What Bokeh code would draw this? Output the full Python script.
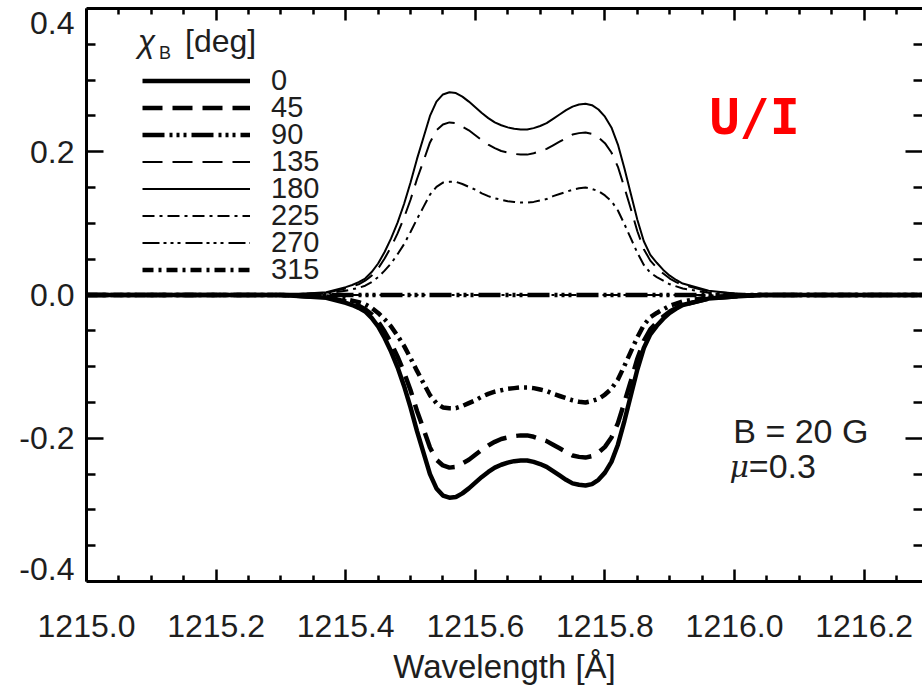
from bokeh.plotting import figure
from bokeh.models import (Range1d, LinearAxis, FixedTicker, PrintfTickFormatter,
                          Legend, LegendItem, Label, CustomLabelingPolicy)
from bokeh.embed import file_html
from bokeh.resources import INLINE

# ---------------- data ----------------
wavelength = [1215.00, 1215.30, 1215.34, 1215.37,
              1215.40, 1215.41, 1215.42, 1215.43, 1215.44, 1215.45, 1215.46, 1215.47,
              1215.48, 1215.49, 1215.50, 1215.51, 1215.52, 1215.53, 1215.54, 1215.55,
              1215.56, 1215.57, 1215.58, 1215.59, 1215.60, 1215.61, 1215.62, 1215.63,
              1215.64, 1215.65, 1215.66, 1215.67, 1215.68, 1215.69, 1215.70, 1215.71,
              1215.72, 1215.73, 1215.74, 1215.75, 1215.76, 1215.77, 1215.78, 1215.79,
              1215.80, 1215.81, 1215.82, 1215.83, 1215.84, 1215.85, 1215.86, 1215.87,
              1215.88, 1215.89, 1215.90, 1215.91, 1215.92,
              1215.96, 1216.00, 1216.04, 1216.30]

ui_180 = [0.0, 0.0, 0.002, 0.004,
          0.011, 0.014, 0.018, 0.023, 0.032, 0.044, 0.060, 0.079,
          0.101, 0.127, 0.157, 0.190, 0.220, 0.250, 0.270, 0.280,
          0.283, 0.282, 0.277, 0.270, 0.262, 0.254, 0.247, 0.241,
          0.237, 0.234, 0.232, 0.231, 0.231, 0.233, 0.236, 0.240,
          0.246, 0.252, 0.258, 0.263, 0.266, 0.267, 0.265, 0.259,
          0.249, 0.234, 0.210, 0.177, 0.141, 0.105, 0.075, 0.056,
          0.045, 0.035, 0.027, 0.021, 0.016,
          0.006, 0.002, 0.0, 0.0]
ui_135 = [0.0, 0.0, 0.002, 0.003,
          0.009, 0.012, 0.015, 0.020, 0.027, 0.037, 0.051, 0.067,
          0.086, 0.108, 0.133, 0.162, 0.187, 0.213, 0.230, 0.238,
          0.241, 0.240, 0.235, 0.230, 0.223, 0.216, 0.210, 0.205,
          0.201, 0.199, 0.197, 0.196, 0.196, 0.198, 0.201, 0.204,
          0.209, 0.214, 0.219, 0.224, 0.226, 0.227, 0.225, 0.220,
          0.212, 0.199, 0.179, 0.150, 0.120, 0.089, 0.064, 0.048,
          0.038, 0.030, 0.023, 0.018, 0.014,
          0.005, 0.002, 0.0, 0.0]
ui_225 = [0.0, 0.0, 0.001, 0.002,
          0.006, 0.008, 0.010, 0.013, 0.018, 0.025, 0.034, 0.044,
          0.057, 0.071, 0.088, 0.106, 0.123, 0.140, 0.151, 0.157,
          0.158, 0.158, 0.155, 0.151, 0.147, 0.142, 0.138, 0.135,
          0.133, 0.131, 0.130, 0.129, 0.129, 0.130, 0.132, 0.134,
          0.138, 0.141, 0.144, 0.147, 0.149, 0.150, 0.148, 0.145,
          0.139, 0.131, 0.118, 0.099, 0.079, 0.059, 0.042, 0.031,
          0.025, 0.020, 0.015, 0.012, 0.009,
          0.003, 0.001, 0.0, 0.0]
ui_0 = [0.0, 0.0, -0.002, -0.004,
        -0.011, -0.014, -0.018, -0.023, -0.032, -0.044, -0.060, -0.079,
        -0.101, -0.127, -0.157, -0.190, -0.220, -0.250, -0.270, -0.280,
        -0.283, -0.282, -0.277, -0.270, -0.262, -0.254, -0.247, -0.241,
        -0.237, -0.234, -0.232, -0.231, -0.231, -0.233, -0.236, -0.240,
        -0.246, -0.252, -0.258, -0.263, -0.265, -0.266, -0.264, -0.258,
        -0.248, -0.233, -0.209, -0.176, -0.140, -0.104, -0.074, -0.055,
        -0.043, -0.033, -0.025, -0.019, -0.014,
        -0.005, -0.002, 0.0, 0.0]
ui_45 = [0.0, 0.0, -0.002, -0.003,
         -0.009, -0.012, -0.015, -0.020, -0.027, -0.037, -0.051, -0.067,
         -0.086, -0.108, -0.133, -0.162, -0.187, -0.213, -0.230, -0.238,
         -0.241, -0.240, -0.235, -0.230, -0.223, -0.216, -0.210, -0.205,
         -0.201, -0.199, -0.197, -0.196, -0.196, -0.198, -0.201, -0.204,
         -0.209, -0.214, -0.219, -0.224, -0.226, -0.227, -0.225, -0.220,
         -0.212, -0.199, -0.179, -0.150, -0.120, -0.089, -0.064, -0.048,
         -0.038, -0.030, -0.023, -0.018, -0.014,
         -0.005, -0.002, 0.0, 0.0]
ui_315 = [0.0, 0.0, -0.001, -0.002,
          -0.006, -0.008, -0.010, -0.013, -0.018, -0.025, -0.034, -0.044,
          -0.057, -0.071, -0.088, -0.106, -0.123, -0.140, -0.151, -0.157,
          -0.158, -0.158, -0.155, -0.151, -0.147, -0.142, -0.138, -0.135,
          -0.133, -0.131, -0.130, -0.129, -0.129, -0.130, -0.132, -0.134,
          -0.138, -0.141, -0.144, -0.147, -0.149, -0.150, -0.148, -0.145,
          -0.139, -0.131, -0.118, -0.099, -0.079, -0.059, -0.042, -0.031,
          -0.025, -0.020, -0.015, -0.012, -0.009,
          -0.003, -0.001, 0.0, 0.0]

wavelength_flat = [1215.0, 1216.3]
ui_90 = [0.0, 0.0]
ui_270 = [0.0, 0.0]

for s in (ui_0, ui_45, ui_135, ui_180, ui_225, ui_315):
    assert len(s) == len(wavelength)

chi_labels = ["0", "45", "90", "135", "180", "225", "270", "315"]
x_ticks_major = [1215.0, 1215.2, 1215.4, 1215.6, 1215.8, 1216.0, 1216.2]
x_ticks_minor = [1215.05, 1215.1, 1215.15, 1215.25, 1215.3, 1215.35, 1215.45, 1215.5,
                 1215.55, 1215.65, 1215.7, 1215.75, 1215.85, 1215.9, 1215.95, 1216.05,
                 1216.1, 1216.15, 1216.25]
y_ticks_major = [-0.2, 0.0, 0.2]
y_ticks_minor = [-0.35, -0.3, -0.25, -0.15, -0.1, -0.05, 0.05, 0.1, 0.15, 0.25, 0.3, 0.35]
# label positions: the end labels sit slightly inside the frame, as in the reference
y_label_positions = [-0.3832, -0.2, 0.0, 0.2, 0.3800]

FONT = "Liberation Sans"
TXT = "#1e1e1e"

p = figure(width=922, height=698, output_backend="svg", toolbar_location=None,
           x_range=Range1d(1215.0, 1216.29), y_range=Range1d(-0.4, 0.4),
           min_border_left=86, min_border_top=8, min_border_bottom=117, min_border_right=0,
           x_axis_label="Wavelength [Å]")
p.grid.visible = False
p.outline_line_color = None

no_labels = CustomLabelingPolicy(code="return new Set()")


def style_axis(ax, major_in, minor_in):
    ax.axis_line_width = 3
    ax.axis_line_color = "black"
    ax.major_tick_in = major_in
    ax.major_tick_out = 0
    ax.minor_tick_in = minor_in
    ax.minor_tick_out = 0
    ax.major_tick_line_width = 2.5
    ax.minor_tick_line_width = 2.5
    ax.major_tick_line_color = "black"
    ax.minor_tick_line_color = "black"
    ax.major_label_text_font = FONT
    ax.major_label_text_font_size = "32px"
    ax.major_label_text_color = TXT


def hide_labels(ax):
    ax.major_label_text_font_size = "0px"
    ax.major_label_standoff = 0
    ax.major_label_policy = no_labels


x_ticker = FixedTicker(ticks=x_ticks_major, minor_ticks=x_ticks_minor)
y_ticker = FixedTicker(ticks=y_ticks_major, minor_ticks=y_ticks_minor)

xb = p.xaxis[0]
xb.ticker = x_ticker
xb.formatter = PrintfTickFormatter(format="%.1f")
style_axis(xb, 12, 6)
xb.major_label_standoff = 33
xb.axis_label_text_font = FONT
xb.axis_label_text_font_size = "33px"
xb.axis_label_text_font_style = "normal"
xb.axis_label_text_color = TXT
xb.axis_label_standoff = 8

# inner left axis: line and ticks only
yl = p.yaxis[0]
yl.ticker = y_ticker
style_axis(yl, 17, 9)
hide_labels(yl)

# outer left axis: labels only
ylab = LinearAxis(ticker=FixedTicker(ticks=y_label_positions),
                  formatter=PrintfTickFormatter(format="%.1f"))
style_axis(ylab, 0, 0)
ylab.axis_line_color = None
ylab.major_tick_line_color = None
ylab.minor_tick_line_color = None
ylab.major_label_standoff = 12
p.add_layout(ylab, "left")

xt = LinearAxis(ticker=x_ticker)
style_axis(xt, 12, 6)
hide_labels(xt)
p.add_layout(xt, "above")

yr = LinearAxis(ticker=y_ticker)
style_axis(yr, 17, 9)
yr.axis_line_color = None
hide_labels(yr)
p.add_layout(yr, "right")

# ---------------- curves ----------------
specs = [
    (wavelength, ui_0, 4.5, "solid"),
    (wavelength, ui_45, 4.5, "20 10"),
    (wavelength_flat, ui_90, 4.5, "22 5 3 4 3 4 3 5"),
    (wavelength, ui_135, 2, "20 10"),
    (wavelength, ui_180, 2, "solid"),
    (wavelength, ui_225, 2, "12 5 3 5"),
    (wavelength_flat, ui_270, 2, "17 4 3 4 3 4 3 5"),
    (wavelength, ui_315, 4.5, "11 5 3 5"),
]
for i, ((xs, ys, lw, dash), lab) in enumerate(zip(specs, chi_labels)):
    r = p.line(x=xs, y=ys, line_width=lw, line_color="black", line_dash=dash)
    lg = Legend(items=[LegendItem(label=lab, renderers=[r])],
                location=(56, 484 - 27 * i), glyph_width=108, glyph_height=27,
                label_height=27, padding=0, margin=0, spacing=0, label_standoff=21,
                border_line_color=None, background_fill_alpha=0,
                label_text_font=FONT, label_text_font_size="29px",
                label_text_color=TXT)
    p.add_layout(lg)

# legend title  chi_B [deg]
p.add_layout(Label(x=1215.079, y=0.354, text="χ", text_font=FONT, text_font_style="italic",
                   text_font_size="32px", text_color=TXT, text_baseline="alphabetic"))
p.add_layout(Label(x=1215.112, y=0.338, text="B", text_font=FONT,
                   text_font_size="18px", text_color=TXT, text_baseline="alphabetic"))
p.add_layout(Label(x=1215.152, y=0.355, text="[deg]", text_font=FONT,
                   text_font_size="32px", text_color=TXT, text_baseline="alphabetic"))

# annotations
p.add_layout(Label(x=1216.031, y=0.249, text="U/I", text_font="DejaVu Sans Mono",
                   text_font_style="bold", text_font_size="50px", text_color="red",
                   text_align="center", text_baseline="alphabetic"))
p.add_layout(Label(x=1215.998, y=-0.190, text="B = 20 G", text_font=FONT,
                   text_font_size="34px", text_color=TXT, text_baseline="alphabetic"))
p.add_layout(Label(x=1215.992, y=-0.239, text="μ", text_font="DejaVu Serif",
                   text_font_style="italic", text_font_size="30px", text_color=TXT,
                   text_baseline="alphabetic"))
p.add_layout(Label(x=1216.022, y=-0.239, text="=0.3", text_font=FONT,
                   text_font_size="34px", text_color=TXT, text_baseline="alphabetic"))

open("out.html", "w").write(file_html(p, INLINE))
